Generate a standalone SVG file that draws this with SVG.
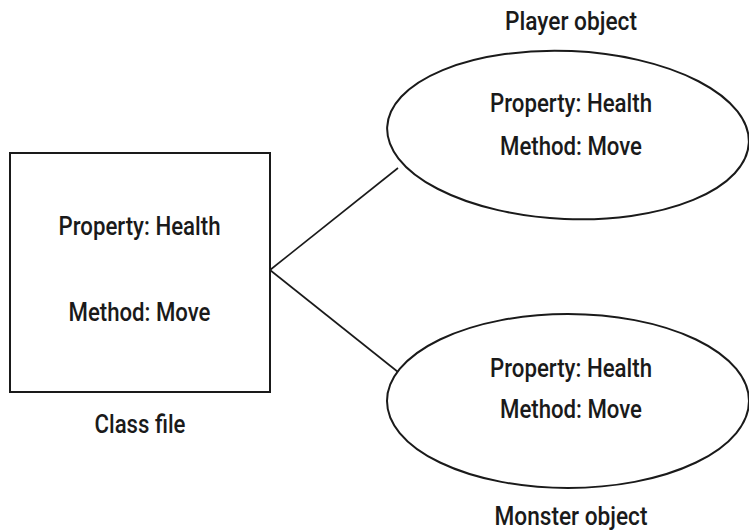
<svg xmlns="http://www.w3.org/2000/svg" width="749" height="532" viewBox="0 0 749 532">
<style>
  text { font-family: Roboto, "Liberation Sans", sans-serif; font-weight: 500; font-size: 26px; fill: #1a1a1a; text-anchor: middle; }
  .shape { fill: none; stroke: #1a1a1a; stroke-width: 2; }
  .conn { fill: none; stroke: #1a1a1a; stroke-width: 1.6; }
</style>
<rect width="749" height="532" fill="#ffffff"/>
<g id="connectors">
  <line class="conn" x1="270" y1="270" x2="398" y2="168"/>
  <line class="conn" x1="270" y1="270" x2="398" y2="372"/>
</g>
<g id="class-file">
  <rect class="shape" x="10" y="153" width="260" height="239"/>
  <text x="139.5" y="235" textLength="162" lengthAdjust="spacingAndGlyphs">Property: Health</text>
  <text x="139.5" y="321" textLength="142" lengthAdjust="spacingAndGlyphs">Method: Move</text>
  <text x="140" y="433" textLength="91" lengthAdjust="spacingAndGlyphs">Class file</text>
</g>
<g id="player-object">
  <ellipse class="shape" cx="568" cy="135" rx="181" ry="84" transform="rotate(2.5 568 135)"/>
  <text x="571" y="30" textLength="132" lengthAdjust="spacingAndGlyphs">Player object</text>
  <text x="571" y="112" textLength="162" lengthAdjust="spacingAndGlyphs">Property: Health</text>
  <text x="571" y="155" textLength="142" lengthAdjust="spacingAndGlyphs">Method: Move</text>
</g>
<g id="monster-object">
  <ellipse class="shape" cx="568" cy="401" rx="181" ry="87"/>
  <text x="571" y="377" textLength="162" lengthAdjust="spacingAndGlyphs">Property: Health</text>
  <text x="571" y="418" textLength="142" lengthAdjust="spacingAndGlyphs">Method: Move</text>
  <text x="571" y="525" textLength="153" lengthAdjust="spacingAndGlyphs">Monster object</text>
</g>
</svg>
